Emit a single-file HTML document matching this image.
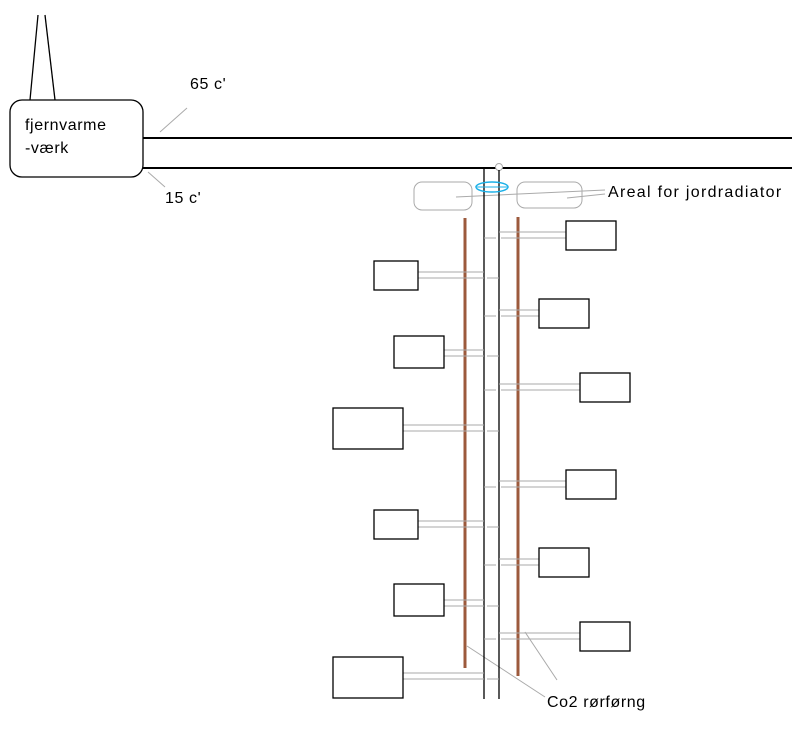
<!DOCTYPE html><html><head><style>body{margin:0;background:#fff}svg{display:block}text{font-family:"Liberation Sans",sans-serif;font-size:16px;letter-spacing:0.6px;fill:#000}</style></head><body>
<svg width="792" height="735" viewBox="0 0 792 735">
<g stroke="#000" stroke-width="1.3" fill="none">
<line x1="38" y1="15" x2="30" y2="100"/><line x1="45" y1="15" x2="55" y2="100"/>
<rect x="10" y="100" width="133" height="77" rx="12" fill="#fff"/>
</g>
<line x1="143" y1="138" x2="792" y2="138" stroke="#000" stroke-width="2"/>
<line x1="143" y1="168" x2="792" y2="168" stroke="#000" stroke-width="2"/>
<g stroke="#aaa" stroke-width="1" fill="none">
<line x1="160" y1="132" x2="187" y2="108"/><line x1="148" y1="172" x2="165" y2="187"/>
<rect x="414" y="182" width="58" height="28" rx="8"/><rect x="517" y="182" width="65" height="26" rx="8"/>
<line x1="456" y1="197" x2="605" y2="190"/><line x1="567" y1="198" x2="605" y2="194"/>
<circle cx="499" cy="167" r="3.5" fill="#fff"/>
<line x1="467" y1="646" x2="545" y2="697"/><line x1="525" y1="632" x2="557" y2="680"/>
</g>
<g stroke="#000" stroke-width="1.3"><line x1="484" y1="168" x2="484" y2="699"/><line x1="499" y1="170" x2="499" y2="699"/></g>
<ellipse cx="492" cy="187" rx="16" ry="5" fill="none" stroke="#1ab0e8" stroke-width="1.5"/>
<line x1="477" y1="187" x2="507" y2="187" stroke="#1ab0e8" stroke-width="1"/>
<g stroke="#9c5a3c" stroke-width="3"><line x1="465" y1="218" x2="465" y2="668"/><line x1="518" y1="217" x2="518" y2="676"/></g>
<g stroke="#aaa" stroke-width="1" fill="none">
<path d="M418 272H484M418 278H484M487 278H499"/>
<path d="M444 350H484M444 356H484M487 356H499"/>
<path d="M403 425H484M403 431H484M487 431H499"/>
<path d="M418 521H484M418 527H484M487 527H499"/>
<path d="M444 600H484M444 606H484M487 606H499"/>
<path d="M403 673H484M403 679H484M487 679H499"/>
<path d="M499 232H566M484 238H496M501 238H566"/>
<path d="M499 310H539M484 316H496M501 316H539"/>
<path d="M499 384H580M484 390H496M501 390H580"/>
<path d="M499 481H566M484 487H496M501 487H566"/>
<path d="M499 559H539M484 565H496M501 565H539"/>
<path d="M499 633H580M484 639H496M501 639H580"/>
</g>
<g stroke="#000" stroke-width="1.3" fill="#fff">
<rect x="374" y="261" width="44" height="29"/><rect x="394" y="336" width="50" height="32"/><rect x="333" y="408" width="70" height="41"/>
<rect x="374" y="510" width="44" height="29"/><rect x="394" y="584" width="50" height="32"/><rect x="333" y="657" width="70" height="41"/>
<rect x="566" y="221" width="50" height="29"/><rect x="539" y="299" width="50" height="29"/><rect x="580" y="373" width="50" height="29"/>
<rect x="566" y="470" width="50" height="29"/><rect x="539" y="548" width="50" height="29"/><rect x="580" y="622" width="50" height="29"/>
</g>
<text x="25" y="130">fjernvarme</text><text x="25" y="153">-værk</text>
<text x="190" y="89">65 c'</text><text x="165" y="203">15 c'</text>
<text x="608" y="197" style="letter-spacing:1.3px">Areal for jordradiator</text>
<text x="547" y="707">Co2 rørførng</text>
</svg></body></html>
